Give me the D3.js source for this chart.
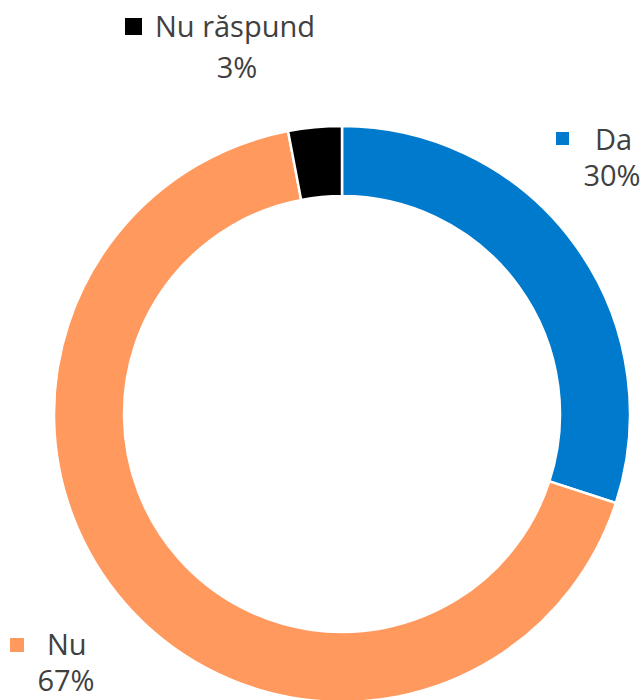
<!DOCTYPE html>
<html lang="ro">
<head>
    <meta charset="UTF-8">
    <title>Donut</title>
    <script src="https://d3js.org/d3.v7.min.js"></script>
    <style>
        body { margin: 0; background: #fff; }
        text { font-family: "Open Sans", sans-serif; fill: #404040; }
    </style>
</head>
<body>
    <svg id="chart" width="642" height="700"></svg>
    <script>
        // data
        let categories = ["Da", "Nu", "Nu răspund"]
        let values = [30, 67, 3]
        let colors = ["#007ACC", "#FF995E", "#000000"]

        let width = 642
        let height = 700
        let cx = 342, cy = 414
        let outerR = 288, innerR = 218

        let svg = d3.select("#chart")
        let data = categories.map((c, i) => ({ name: c, value: values[i], color: colors[i] }))

        let pie = d3.pie().sort(null).value(d => d.value)
        let arc = d3.arc().innerRadius(innerR).outerRadius(outerR)

        let g = svg.append("g").attr("transform", `translate(${cx},${cy})`)
        g.selectAll("path")
            .data(pie(data))
            .enter()
            .append("path")
            .attr("d", arc)
            .attr("fill", d => d.data.color)
            .attr("stroke", "#fff")
            .attr("stroke-width", 2.5)

        // labels: [square x, square y, square size, name x, name y, pct x(center), pct y]
        let labelPos = [
            [556, 132, 13, 595, 150, 612, 186],
            [10, 638, 14, 47, 655, 66, 691],
            [125, 18, 17, 155, 37, 237, 78]
        ]
        data.forEach((d, i) => {
            let p = labelPos[i]
            svg.append("rect").attr("x", p[0]).attr("y", p[1])
                .attr("width", p[2]).attr("height", p[2]).attr("fill", d.color)
            svg.append("text").attr("x", p[3]).attr("y", p[4])
                .attr("font-size", 29).text(d.name)
            svg.append("text").attr("x", p[5]).attr("y", p[6])
                .attr("font-size", 29).attr("text-anchor", "middle").text(d.value + "%")
        })
    </script>
</body>
</html>
